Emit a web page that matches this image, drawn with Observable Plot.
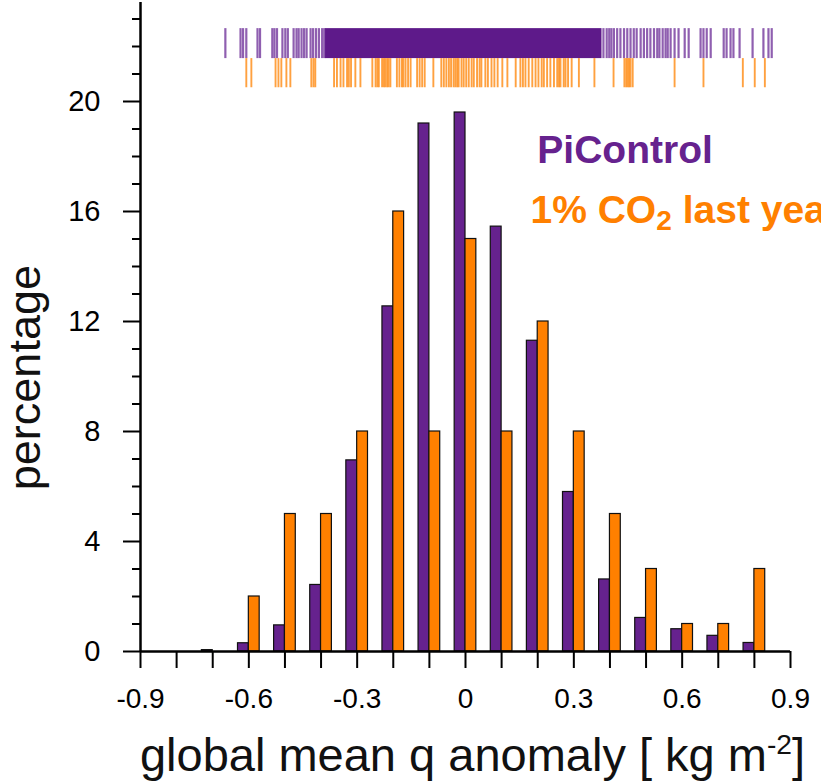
<!DOCTYPE html>
<html>
<head>
<meta charset="utf-8">
<script src="https://cdn.jsdelivr.net/npm/d3@7"></script>
<script src="https://cdn.jsdelivr.net/npm/@observablehq/plot@0.6"></script>
<style>
  html, body { margin: 0; padding: 0; background: #fff; overflow: hidden; }
  #chart { width: 821px; height: 783px; }
</style>
</head>
<body>
<div id="chart"></div>
<script>
// ---- Data ----
const binCenters   = [-0.7, -0.6, -0.5, -0.4, -0.3, -0.2, -0.1, 0, 0.1, 0.2, 0.3, 0.4, 0.5, 0.6, 0.7, 0.8];
const piControlPct = [0.05, 0.3, 0.95, 2.42, 6.95, 12.55, 19.2, 19.6, 15.45, 11.3, 5.8, 2.62, 1.22, 0.81, 0.57, 0.31];
const co2Pct       = [0, 2, 5, 5, 8, 16, 8, 15, 8, 12, 8, 5, 3, 1, 1, 3];

// rug of individual PiControl years (outer, readable ticks) and the saturated central block
const piControlRug = [-0.665, -0.623, -0.616, -0.607, -0.576, -0.569, -0.535, -0.529, -0.522, -0.507,
  -0.499, -0.492, -0.476, -0.468, -0.462, -0.454, -0.447, -0.440, -0.429, -0.422, -0.414, -0.406,
  -0.397, -0.391,
  0.382, 0.391, 0.398, 0.404, 0.411, 0.420, 0.429, 0.439, 0.448, 0.457, 0.466, 0.474, 0.485, 0.494,
  0.503, 0.512, 0.522, 0.531, 0.537, 0.546, 0.554, 0.560, 0.568, 0.579, 0.590, 0.607, 0.618, 0.651,
  0.659, 0.668, 0.679, 0.715, 0.723, 0.734, 0.742, 0.759, 0.795, 0.825, 0.839, 0.848];
const piControlRugBlock = [-0.388, 0.378];

// rug of the 100 last years of the 1% CO2 run
const co2Rug = [-0.607, -0.593,
  -0.526, -0.518, -0.510, -0.496, -0.485,
  -0.427, -0.421, -0.416, -0.364, -0.356,
  -0.346, -0.338, -0.328, -0.323, -0.317, -0.305, -0.291, -0.258,
  -0.249, -0.244, -0.240, -0.231, -0.226, -0.222, -0.217, -0.213, -0.208, -0.190, -0.183, -0.176,
  -0.172, -0.166, -0.159, -0.152,
  -0.134, -0.127, -0.120, -0.113, -0.089, -0.067, -0.060, -0.053,
  -0.046, -0.040, -0.033, -0.028, -0.023, -0.019, -0.011, -0.005, 0.002, 0.009, 0.017, 0.023, 0.032,
  0.039, 0.044,
  0.055, 0.062, 0.072, 0.080, 0.089, 0.102, 0.116, 0.139,
  0.152, 0.159, 0.166, 0.175, 0.185, 0.194, 0.202, 0.211, 0.217, 0.226, 0.235, 0.245,
  0.254, 0.259, 0.263, 0.272, 0.277, 0.284, 0.294, 0.314,
  0.357, 0.410, 0.440, 0.445, 0.449,
  0.453, 0.457, 0.463,
  0.579, 0.659, 0.768, 0.801, 0.829];

const xTicks      = [-0.9, -0.8, -0.7, -0.6, -0.5, -0.4, -0.3, -0.2, -0.1, 0, 0.1, 0.2, 0.3, 0.4, 0.5, 0.6, 0.7, 0.8, 0.9];
const xTickLabels = [-0.9, -0.6, -0.3, 0, 0.3, 0.6, 0.9];
const yMajorTicks = [0, 4, 8, 12, 16, 20];
const yMinorTicks = [1, 2, 3, 5, 6, 7, 9, 10, 11, 13, 14, 15, 17, 18, 19, 21, 22, 23];

const seriesNames = ["PiControl", "1% CO2 last year"];
const xTitle = "global mean q anomaly [ kg m-2]";
const yTitle = "percentage";

// ---- Build tables ----
const purple = "#66228e";
const orange = "#ff8000";
const barW = 0.03;

const piBars  = binCenters.map((c, i) => ({c, v: piControlPct[i]})).filter(d => d.v > 0);
const co2Bars = binCenters.map((c, i) => ({c, v: co2Pct[i]})).filter(d => d.v > 0);

const fmt = d => d === 0 ? "0" : String(d);
const font = "'Liberation Sans', Arial, Helvetica, sans-serif";

const chart = Plot.plot({
  width: 821,
  height: 783,
  marginLeft: 140,
  marginRight: 31,
  marginTop: 2,
  marginBottom: 132,
  x: {domain: [-0.9, 0.9], axis: null},
  y: {domain: [0, 23.6], axis: null},
  style: {fontFamily: font, background: "white", overflow: "visible", color: "black"},
  marks: [
    // bars
    Plot.rect(piBars, {x1: d => d.c - barW, x2: d => d.c, y1: 0, y2: "v", fill: purple, stroke: "#111", strokeWidth: 1.2}),
    Plot.rect(co2Bars, {x1: d => d.c, x2: d => d.c + barW, y1: 0, y2: "v", fill: orange, stroke: "#111", strokeWidth: 1.2}),

    // rugs
    Plot.rect([piControlRugBlock], {x1: d => d[0], x2: d => d[1], y1: 21.56, y2: 22.65, fill: "#5e1a8a"}),
    Plot.ruleX(piControlRug, {x: d => d, y1: 21.56, y2: 22.65, stroke: "#6a2a96", strokeOpacity: 0.75, strokeWidth: 2.2}),
    Plot.ruleX(co2Rug, {x: d => d, y1: 20.5, y2: 21.56, stroke: "#ff8a10", strokeOpacity: 0.8, strokeWidth: 1.9}),

    // axes
    Plot.axisX({ticks: xTicks, tickSize: 17, strokeWidth: 2, fill: "none", label: null}),
    Plot.axisX({ticks: xTickLabels, tickSize: 0, tickPadding: 37, fontSize: 28, tickFormat: fmt, label: null}),
    Plot.axisY({ticks: yMajorTicks, tickSize: 17, tickPadding: 23, strokeWidth: 2, fontSize: 29, tickFormat: fmt, label: null}),
    Plot.axisY({ticks: yMinorTicks, tickSize: 8, strokeWidth: 2, fill: "none", label: null}),
    Plot.ruleX([-0.9], {stroke: "black", strokeWidth: 2.5}),
    Plot.ruleY([0], {stroke: "black", strokeWidth: 2.5}),

    // legend
    Plot.text([seriesNames[0]], {x: 0.199, y: 17.78, text: d => d, textAnchor: "start", lineAnchor: "bottom",
      fill: purple, fontSize: 39, fontWeight: "bold"}),
    Plot.text([seriesNames[1]], {x: 0.18, y: 15.6, text: d => d, textAnchor: "start", lineAnchor: "bottom",
      fill: orange, fontSize: 39, fontWeight: "bold"}),

    // axis titles
    Plot.text([xTitle], {frameAnchor: "bottom", dy: 119, dx: 7, lineAnchor: "bottom", text: d => d, fontSize: 47, fill: "#111"}),
    Plot.text([yTitle], {x: -0.9, y: 9.96, rotate: -90, dx: -115, lineAnchor: "middle", text: d => d, fontSize: 45, fill: "#111"})
  ]
});

// sub/superscripts as real text (tspans)
d3.select(chart).selectAll("text").each(function() {
  const t = this.textContent;
  const sel = d3.select(this);
  if (t === seriesNames[1]) {
    sel.text(null);
    sel.append("tspan").text("1% CO");
    sel.append("tspan").attr("font-size", "72%").attr("dy", 7).text("2");
    sel.append("tspan").attr("dy", -7).text(" last year");
  } else if (t === xTitle) {
    sel.text(null);
    sel.append("tspan").text("global mean q anomaly [ kg m");
    sel.append("tspan").attr("font-size", "60%").attr("dy", -17).text("-2");
    sel.append("tspan").attr("dy", 17).text("]");
  }
});

document.getElementById("chart").appendChild(chart);
</script>
</body>
</html>
